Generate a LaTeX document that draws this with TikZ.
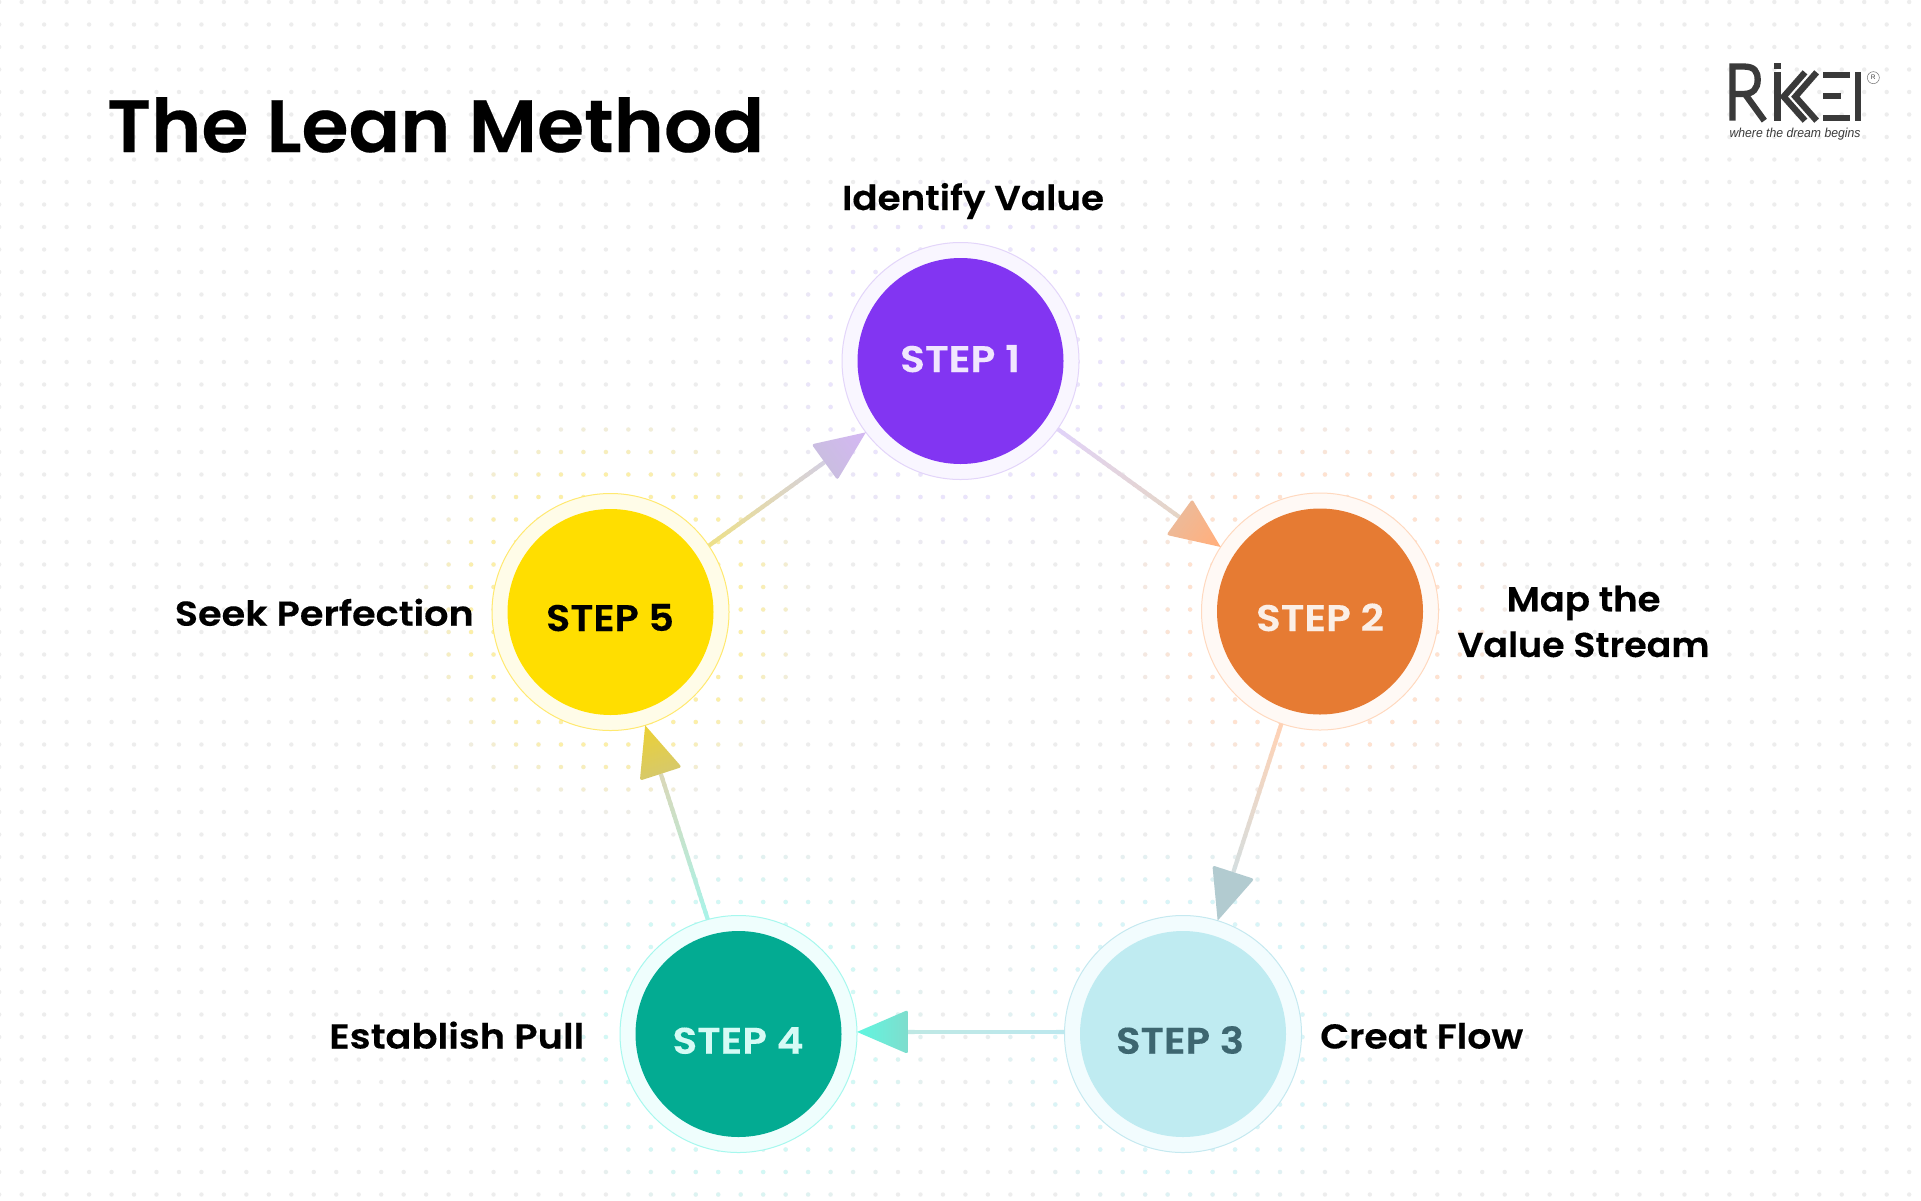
\documentclass[tikz,border=0pt]{standalone}
\usepackage{fontspec}
\usepackage{graphicx}
\usetikzlibrary{calc}
\setmainfont{Poppins}[BoldFont={Poppins SemiBold},BoldFeatures={FakeBold=0.3}]
\newfontfamily\logofont{Liberation Sans}
\definecolor{dotgrey}{HTML}{EDEDED}
\definecolor{tintA}{HTML}{EAE4FC}
\definecolor{tintB}{HTML}{FFE2D0}
\definecolor{tintC}{HTML}{D8F5F8}
\definecolor{tintD}{HTML}{D2F8F5}
\definecolor{tintE}{HTML}{FCEFA8}
\definecolor{logogrey}{HTML}{3A3A3A}
\definecolor{ringA}{HTML}{F9F6FF}\definecolor{edgeA}{HTML}{E3D5FA}\definecolor{discA}{HTML}{8235F2}\definecolor{textA}{HTML}{F0E6FE}
\definecolor{ringB}{HTML}{FFF9F5}\definecolor{edgeB}{HTML}{FFD9BF}\definecolor{discB}{HTML}{E67B33}\definecolor{textB}{HTML}{FBEFE7}
\definecolor{ringC}{HTML}{F2FCFE}\definecolor{edgeC}{HTML}{C5E9F0}\definecolor{discC}{HTML}{BFEBF1}\definecolor{textC}{HTML}{3D6670}
\definecolor{ringD}{HTML}{EFFEFD}\definecolor{edgeD}{HTML}{A6F8EE}\definecolor{discD}{HTML}{03AB92}\definecolor{textD}{HTML}{D5FBF5}
\definecolor{ringE}{HTML}{FFFCE8}\definecolor{edgeE}{HTML}{FFE970}\definecolor{discE}{HTML}{FFDE00}
\definecolor{lnAa}{HTML}{E1D3F8}\definecolor{lnAb}{HTML}{E5D5C6}\definecolor{hdAa}{HTML}{E9BC9E}\definecolor{hdAb}{HTML}{FFB07F}
\definecolor{lnBa}{HTML}{FFD2B5}\definecolor{lnBb}{HTML}{D5DEDF}\definecolor{hdBa}{HTML}{B2CBD0}\definecolor{hdBb}{HTML}{B2CBD0}
\definecolor{lnCa}{HTML}{BDE8EE}\definecolor{lnCb}{HTML}{BEE8E4}\definecolor{hdCa}{HTML}{7FDDCD}\definecolor{hdCb}{HTML}{5FF6E0}
\definecolor{lnDa}{HTML}{AAF3E8}\definecolor{lnDb}{HTML}{DAD8B8}\definecolor{hdDa}{HTML}{D4C870}\definecolor{hdDb}{HTML}{EAD039}
\definecolor{lnEa}{HTML}{EDE08A}\definecolor{lnEb}{HTML}{D5D0E0}\definecolor{hdEa}{HTML}{C8BFDD}\definecolor{hdEb}{HTML}{D2B8F0}
\newcommand{\fitw}[2]{\resizebox{#1pt}{\height}{#2}}
\tikzset{
 outerring/.style={circle,inner sep=0pt,outer sep=0pt,minimum size=237pt,line width=1pt},
 innerdisc/.style={circle,inner sep=0pt,outer sep=0pt,minimum size=206pt},
 steptext/.style={anchor=base,inner sep=0pt,font=\fontsize{37}{40}\selectfont\bfseries},
 labeltext/.style={inner sep=0pt,text=black,font=\fontsize{34.5}{45.7}\selectfont\bfseries},
 logostroke/.style={draw=logogrey,line width=6.3pt,line cap=butt,line join=miter},
}
% id, from node, from angle, to node, to angle, line colour 1, line colour 2, head base, head tip
\newcommand{\conn}[9]{%
 \coordinate (S#1) at (#2.#3);
 \coordinate (T#1) at (#4.#5);
 \coordinate (M#1) at ($(T#1)!51pt!(S#1)$);
 \coordinate (L#1) at ($(M#1)!22pt!90:(T#1)$);
 \coordinate (R#1) at ($(M#1)!22pt!-90:(T#1)$);
 \foreach \k in {0,...,23}{%
  \pgfmathsetmacro\ta{\k/24}
  \pgfmathsetmacro\tb{min(1,(\k+1.3)/24)}
  \pgfmathtruncatemacro\mx{100*\k/23}
  \draw[line width=4.2pt,color=#7!\mx!#6] ($(S#1)!\ta!(M#1)$) -- ($(S#1)!\tb!(M#1)$);
 }
 \shade[bottom color=#8,top color=#9,shading angle=\headangle]
   (T#1) [rounded corners=2.5pt] -- (L#1) -- (R#1) [sharp corners] -- cycle;
}
% centre x, centre y, tint colour
\newcommand{\tintdots}[3]{%
 \pgfmathtruncatemacro\imin{max(0,(#1-205)/22.47)}
 \pgfmathtruncatemacro\imax{min(86,(#1+205)/22.47+1)}
 \pgfmathtruncatemacro\jmin{max(0,(#2-205)/22.5)}
 \pgfmathtruncatemacro\jmax{min(53,(#2+205)/22.5+1)}
 \foreach \i in {\imin,...,\imax}{\foreach \j in {\jmin,...,\jmax}{%
  \pgfmathsetmacro\dd{veclen(\i*22.47-0.8-#1,\j*22.5+2-#2)}
  \ifdim\dd pt<205pt
   \pgfmathsetmacro\op{round(10*min(1,(205-\dd)/65))/10}
   \fill[#3,opacity=\op] ({\i*22.47-0.8},{\j*22.5+2}) circle (2.2);
  \fi
 }}
}
\begin{document}
\begin{tikzpicture}[x=1pt,y=-1pt]
\useasboundingbox (0,0) rectangle (1921,1200);
\fill[white] (0,0) rectangle (1921,1200);
% dotted ground
\foreach \i in {0,...,86}{\foreach \j in {0,...,53}{\fill[dotgrey] ({\i*22.47-0.8},{\j*22.5+2}) circle (2.2);}}
\tintdots{960.5}{361}{tintA}
\tintdots{1320}{611.5}{tintB}
\tintdots{1183}{1034}{tintC}
\tintdots{738.5}{1034}{tintD}
\tintdots{610.5}{612}{tintE}
% title
\node[anchor=base west,inner sep=0pt,text=black,font=\fontsize{74}{80}\selectfont\bfseries] (title) at (107,152) {\fitw{657}{The Lean Method}};
% circles
\node[outerring,draw=edgeA,fill=ringA] (s1) at (960.5,361) {};
\node[innerdisc,fill=discA] (d1) at (s1.center) {};
\node[steptext,text=textA] (t1) at (960,372) {\fitw{120}{STEP 1}};
\node[outerring,draw=edgeB,fill=ringB] (s2) at (1320,611.5) {};
\node[innerdisc,fill=discB] (d2) at (s2.center) {};
\node[steptext,text=textB] (t2) at (1320,631) {\fitw{128}{STEP 2}};
\node[outerring,draw=edgeC,fill=ringC] (s3) at (1183,1034) {};
\node[innerdisc,fill=discC] (d3) at (s3.center) {};
\node[steptext,text=textC] (t3) at (1180,1053.7) {\fitw{128}{STEP 3}};
\node[outerring,draw=edgeD,fill=ringD] (s4) at (738.5,1034) {};
\node[innerdisc,fill=discD] (d4) at (s4.center) {};
\node[steptext,text=textD] (t4) at (738,1053.7) {\fitw{131}{STEP 4}};
\node[outerring,draw=edgeE,fill=ringE] (s5) at (610.5,612) {};
\node[innerdisc,fill=discE] (d5) at (s5.center) {};
\node[steptext,text=black] (t5) at (610,631) {\fitw{128}{STEP 5}};
% connectors
\def\headangle{-126}\conn{a}{s1}{-35.4}{s2}{147.4}{lnAa}{lnAb}{hdAa}{hdAb}
\def\headangle{-198}\conn{b}{s2}{-109.3}{s3}{73.4}{lnBa}{lnBb}{hdBa}{hdBb}
\def\headangle{90}\conn{c}{s3}{179}{s4}{1}{lnCa}{lnCb}{hdCa}{hdCb}
\def\headangle{18}\conn{d}{s4}{105.7}{s5}{-73.4}{lnDa}{lnDb}{hdDa}{hdDb}
\def\headangle{-54}\conn{e}{s5}{34.8}{s1}{-143.8}{lnEa}{lnEb}{hdEa}{hdEb}
% labels
\node[labeltext,anchor=base] (l1) at (973,210) {\fitw{262}{Identify Value}};
\node[labeltext,anchor=center,align=center] (l2) at (1583.5,621.5) {\fitw{154}{Map the}\\\fitw{252}{Value Stream}};
\node[labeltext,anchor=base west] (l3) at (1320,1048.5) {\fitw{203}{Creat Flow}};
\node[labeltext,anchor=base east] (l4) at (584.5,1048.5) {\fitw{255}{Establish Pull}};
\node[labeltext,anchor=base east] (l5) at (474,625.7) {\fitw{299}{Seek Perfection}};
% logo, zoom coordinates
\begin{scope}[shift={(1680,30)},x=0.3333pt,y=-0.3333pt]
 \draw[logostroke] (157.5,272) -- (157.5,109.5) -- (190,109.5) .. controls (225,109.5) and (233,125) .. (233,150) .. controls (233,175) and (220,192) .. (190,192) -- (157.5,192);
 \draw[logostroke] (195,192) -- (253,272);
 \fill[logogrey] (283,100) rectangle (302,118);
 \fill[logogrey] (283,127) rectangle (302,272);
 \draw[logostroke] (375,127) -- (311,200) -- (375,272);
 \draw[logostroke] (410,127) -- (346,200) -- (410,272);
 \fill[logogrey] (428,127) rectangle (510,143);
 \fill[logogrey] (428,190) rectangle (483,208);
 \fill[logogrey] (428,255) rectangle (510,272);
 \fill[logogrey] (525,127) rectangle (543,272);
 \node[circle,draw=logogrey!70,line width=0.5pt,minimum size=12pt,inner sep=0pt,text=logogrey,font=\logofont\fontsize{6.5}{7}\selectfont] (reg) at (580,143) {R};
 \node[anchor=base west,inner sep=0pt,text=logogrey,font=\logofont\itshape\fontsize{13}{14}\selectfont] (tag) at (148,323) {\fitw{131}{where the dream begins}};
\end{scope}
\end{tikzpicture}
\end{document}
